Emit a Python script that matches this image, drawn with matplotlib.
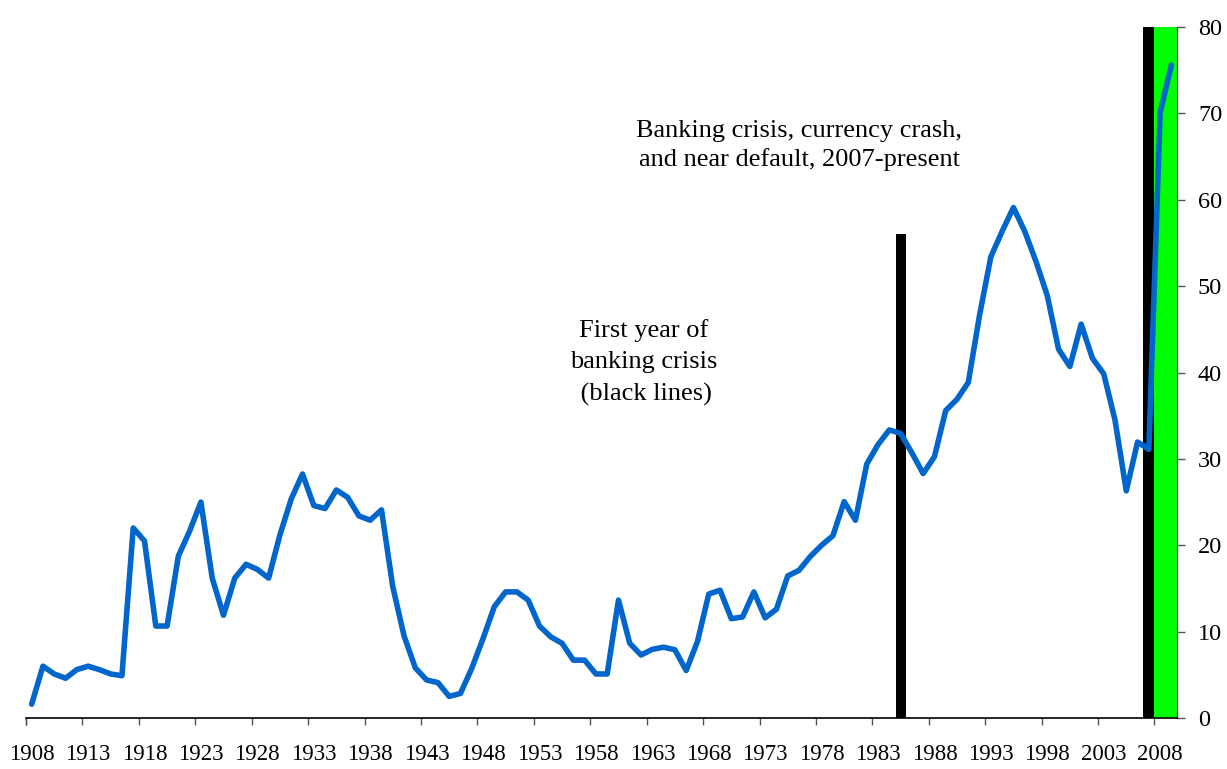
import numpy as np
import matplotlib
matplotlib.use("Agg")
import matplotlib.pyplot as plt
from matplotlib.ticker import FixedLocator, NullFormatter

plt.rcParams["font.family"] = ["Liberation Serif", "DejaVu Serif"]

# hodnoty (rok 1908 .. 2009)
values = [1.6, 6.0, 5.1, 4.6, 5.6, 6.0, 5.6, 5.1, 4.9, 22.0,
          20.5, 10.65, 10.65, 18.75, 21.65, 25.0, 16.2, 11.9, 16.2, 17.8,
          17.2, 16.2, 21.2, 25.35, 28.25, 24.6, 24.25, 26.4, 25.55, 23.4,
          22.9, 24.1, 15.2, 9.5, 5.8, 4.4, 4.1, 2.5, 2.85, 5.75,
          9.2, 12.9, 14.6, 14.6, 13.65, 10.65, 9.4, 8.65, 6.7, 6.7,
          5.1, 5.1, 13.65, 8.65, 7.3, 7.95, 8.2, 7.9, 5.5, 8.85,
          14.35, 14.8, 11.5, 11.7, 14.6, 11.6, 12.6, 16.45, 17.1, 18.7,
          20.0, 21.1, 25.05, 22.9, 29.4, 31.65, 33.35, 32.95, 30.7, 28.3,
          30.25, 35.6, 36.9, 38.85, 46.65, 53.4, 56.35, 59.1, 56.35, 52.85,
          48.9, 42.7, 40.7, 45.6, 41.65, 39.85, 34.5, 26.3, 31.95, 31.1,
          70.1, 75.6]
years = np.arange(1908, 1908 + len(values))

crisis_years = [1985, 2007]      # prvni rok bankovni krize (cerne)
crisis_heights = [56, 80]
crisis_widths = [0.9, 1.0]
default_years = [2008, 2009]     # 2007-present (zelene)
default_heights = [80, 80]

label_years = list(range(1908, 2009, 5))

fig = plt.figure(figsize=(12.27, 7.69), dpi=100)
ax = fig.add_axes([0.0212, 0.0663, 0.9381, 0.8986])

ax.bar(crisis_years, crisis_heights, width=crisis_widths, color="black", zorder=2)
ax.bar(default_years, default_heights, width=1.0, color="#00ff00", zorder=2)
ax.plot(years, values, color="#0066cc", lw=4.0, solid_joinstyle="round",
        solid_capstyle="round", zorder=3)

ax.set_xlim(1907.5, 2009.5)
ax.set_ylim(0, 80)

# osa x: popisky na stredu kategorii, carky na hranicich
ax.xaxis.set_major_locator(FixedLocator(label_years))
ax.set_xticklabels([str(y) for y in label_years])
ax.xaxis.set_minor_locator(FixedLocator([y - 0.5 for y in label_years] + [1907.5]))
ax.xaxis.set_minor_formatter(NullFormatter())
ax.tick_params(axis="x", which="major", length=0, pad=19, labelsize=16.5)
ax.tick_params(axis="x", which="minor", length=5, width=1, color="#555555", direction="out")

# osa y vpravo
ax.yaxis.tick_right()
ax.set_yticks(range(0, 81, 10))
ax.tick_params(axis="y", length=6, width=1, color="#555555", pad=9, labelsize=17.5)

for s in ("left", "top"):
    ax.spines[s].set_visible(False)
ax.spines["bottom"].set_linewidth(1.2)
ax.spines["right"].set_color("#333333")

ax.text(1976.0, 66.3, "Banking crisis, currency crash,\nand near default, 2007-present",
        ha="center", va="center", fontsize=19, linespacing=1.3)
ax.text(1962.2, 41.2, "First year of\nbanking crisis\n (black lines)",
        ha="center", va="center", fontsize=19, linespacing=1.55)

plt.savefig("out.png", dpi=100)
